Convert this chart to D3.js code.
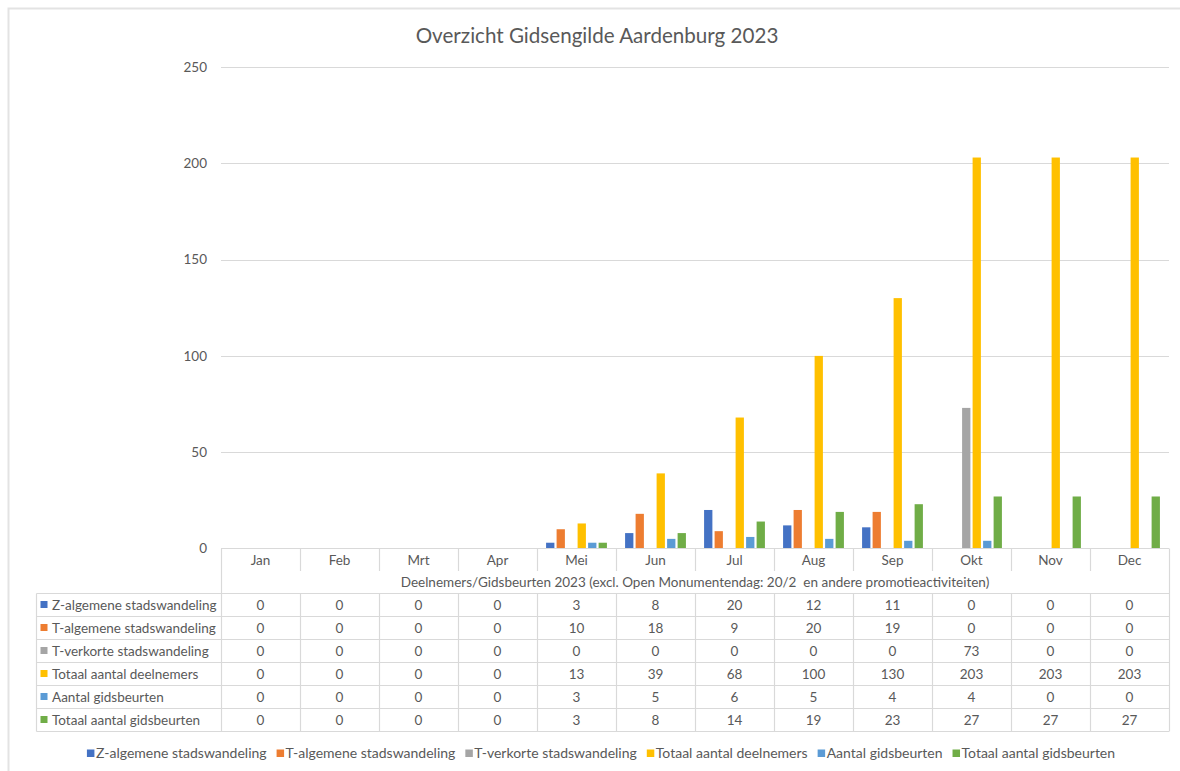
<!DOCTYPE html>
<html>
<head>
<meta charset="utf-8">
<script src="https://cdn.jsdelivr.net/npm/d3@7"></script>
<style>
  html, body { margin: 0; padding: 0; background: #fff; }
  svg { display: block; font-family: Lato, "Open Sans", sans-serif; }
  text { white-space: pre; }
</style>
</head>
<body>
<svg id="chart" width="1180" height="771"></svg>
<script>
const months = ["Jan","Feb","Mrt","Apr","Mei","Jun","Jul","Aug","Sep","Okt","Nov","Dec"];
const seriesNames = ["Z-algemene stadswandeling","T-algemene stadswandeling","T-verkorte stadswandeling","Totaal aantal deelnemers","Aantal gidsbeurten","Totaal aantal gidsbeurten"];
const zAlgemene = [0,0,0,0,3,8,20,12,11,0,0,0];
const tAlgemene = [0,0,0,0,10,18,9,20,19,0,0,0];
const tVerkorte = [0,0,0,0,0,0,0,0,0,73,0,0];
const totaalDeelnemers = [0,0,0,0,13,39,68,100,130,203,203,203];
const aantalGidsbeurten = [0,0,0,0,3,5,6,5,4,4,0,0];
const totaalGidsbeurten = [0,0,0,0,3,8,14,19,23,27,27,27];
const yTicks = [0,50,100,150,200,250];
const title = "Overzicht Gidsengilde Aardenburg 2023";
const tableSubtitle = "Deelnemers/Gidsbeurten 2023 (excl. Open Monumentendag: 20/2  en andere promotieactiviteiten)";

const seriesValues = [zAlgemene,tAlgemene,tVerkorte,totaalDeelnemers,aantalGidsbeurten,totaalGidsbeurten];
const colors = ["#4472C4","#ED7D31","#A5A5A5","#FFC000","#5B9BD5","#70AD47"];

const svg = d3.select("#chart");
const textColor = "#595959";
const lineColor = "#d9d9d9";
const fs = 13.5;

// outer chart border
svg.append("path").attr("d","M8.5,771 L8.5,8.5 L1180,8.5").attr("fill","none")
  .attr("stroke","#e3e3e3").attr("stroke-width",2);

const plotLeft = 221, plotRight = 1169, plotTop = 67, plotBottom = 548.5;
const x = d3.scaleBand().domain(months).range([plotLeft,plotRight]).padding(0);
const xs = d3.scaleBand().domain(d3.range(6)).range([0,x.bandwidth()]).paddingInner(0.21).paddingOuter(0.865);
const y = d3.scaleLinear().domain([0,250]).range([plotBottom,plotTop]);

// title
svg.append("text").attr("x",597).attr("y",43).attr("text-anchor","middle")
  .attr("font-size",20.6).attr("fill",textColor).text(title);

// gridlines
svg.append("g").selectAll("line").data(yTicks.filter(d=>d>0)).join("line")
  .attr("x1",plotLeft).attr("x2",plotRight).attr("y1",d=>Math.round(y(d))+0.5).attr("y2",d=>Math.round(y(d))+0.5)
  .attr("stroke",lineColor).attr("stroke-width",1.2);

// y axis labels via axis
const yAxis = svg.append("g").attr("transform",`translate(${plotLeft},0)`)
  .call(d3.axisLeft(y).tickValues(yTicks).tickSize(0).tickPadding(14));
yAxis.select(".domain").remove();
yAxis.selectAll("text").attr("font-size",fs).attr("fill",textColor).attr("font-family","Lato, 'Open Sans', sans-serif");

// bars
const gBars = svg.append("g");
seriesValues.forEach((vals,si)=>{
  gBars.append("g").selectAll("rect").data(vals.map((v,i)=>({m:months[i],v}))).join("rect")
    .attr("x",d=>x(d.m)+xs(si)).attr("width",xs.bandwidth())
    .attr("y",d=>y(d.v)).attr("height",d=>y(0)-y(d.v))
    .attr("fill",colors[si]);
});

// data table
const rowH = 23;
const headTop = 548.5, subTop = headTop+22.5, dataTop = subTop+22.5;
const tbl = svg.append("g");
const L = 36.5;
const tableBottom = dataTop + rowH*6;
tbl.append("line").attr("x1",plotLeft).attr("x2",plotRight).attr("y1",headTop).attr("y2",headTop).attr("stroke",lineColor);
for (let r=0;r<=6;r++){
  const yy = dataTop + r*rowH;
  tbl.append("line").attr("x1",L).attr("x2",plotRight).attr("y1",yy).attr("y2",yy).attr("stroke",lineColor).attr("stroke-width",1.2);
}
tbl.append("line").attr("x1",L).attr("x2",L).attr("y1",dataTop).attr("y2",tableBottom).attr("stroke",lineColor).attr("stroke-width",1.2);
tbl.append("line").attr("x1",plotLeft+0.5).attr("x2",plotLeft+0.5).attr("y1",headTop).attr("y2",tableBottom).attr("stroke",lineColor).attr("stroke-width",1.2);
tbl.append("line").attr("x1",plotRight+0.5).attr("x2",plotRight+0.5).attr("y1",headTop).attr("y2",tableBottom).attr("stroke",lineColor).attr("stroke-width",1.2);
months.slice(1).forEach(m=>{
  const xx = Math.round(x(m))+0.5;
  tbl.append("line").attr("x1",xx).attr("x2",xx).attr("y1",headTop).attr("y2",subTop).attr("stroke",lineColor).attr("stroke-width",1.2);
  tbl.append("line").attr("x1",xx).attr("x2",xx).attr("y1",dataTop).attr("y2",tableBottom).attr("stroke",lineColor).attr("stroke-width",1.2);
});
tbl.selectAll("text.month").data(months).join("text").attr("class","month")
  .attr("x",d=>x(d)+x.bandwidth()/2).attr("y",headTop+16).attr("text-anchor","middle")
  .attr("font-size",fs).attr("fill",textColor).text(d=>d);
tbl.append("text").attr("x",(plotLeft+plotRight)/2).attr("y",subTop+16).attr("text-anchor","middle")
  .attr("font-size",fs).attr("fill",textColor).text(tableSubtitle);
seriesValues.forEach((vals,si)=>{
  const yy = dataTop + si*rowH;
  tbl.append("rect").attr("x",40.5).attr("y",yy+7.5).attr("width",7).attr("height",7).attr("fill",colors[si]);
  tbl.append("text").attr("x",52).attr("y",yy+16.5).attr("font-size",fs).attr("fill",textColor).text(seriesNames[si]);
  tbl.append("g").selectAll("text").data(vals).join("text")
    .attr("x",(d,i)=>x(months[i])+x.bandwidth()/2).attr("y",yy+16.5).attr("text-anchor","middle")
    .attr("font-size",fs).attr("fill",textColor).text(d=>d);
});

// legend
const leg = svg.append("g");
let lx = 0;
seriesNames.forEach((n,i)=>{
  const g = leg.append("g");
  g.append("rect").attr("x",0).attr("y",-8.5).attr("width",7.5).attr("height",7.5).attr("fill",colors[i]);
  const t = g.append("text").attr("x",9).attr("y",0).attr("font-size",14).attr("fill",textColor).text(n);
  const w = 9 + t.node().getComputedTextLength();
  g.attr("transform",`translate(${lx},0)`);
  lx += w + 10;
});
const totalW = lx - 10;
leg.attr("transform",`translate(${601 - totalW/2},758)`);
</script>
</body>
</html>
